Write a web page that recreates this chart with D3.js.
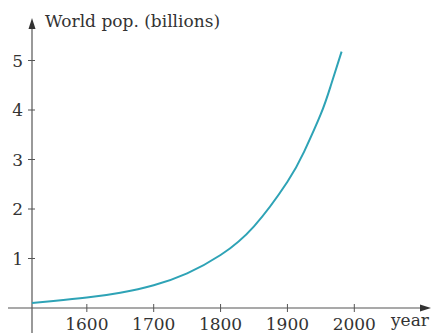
<!DOCTYPE html>
<html>
<head>
<meta charset="utf-8">
<script src="https://cdn.jsdelivr.net/npm/d3@7"></script>
<style>
  body { margin: 0; background: #fff; }
</style>
</head>
<body>
<svg id="chart" width="432" height="333"></svg>
<script>
// values
var years = [1518, 1550, 1600, 1650, 1700, 1750, 1800, 1850, 1900, 1925, 1950, 1965, 1981];
var pop = [0.10, 0.14, 0.21, 0.31, 0.46, 0.70, 1.07, 1.65, 2.55, 3.16, 3.92, 4.5, 5.18];
var xTicks = [1600, 1700, 1800, 1900, 2000];
var yTicks = [1, 2, 3, 4, 5];

var svg = d3.select("#chart");
var axisColor = "#555";
var serif = "'DejaVu Serif', serif";

// 100 years ~ 66.7px, 1 billion ~ 49.5px
var x = d3.scaleLinear().domain([1518, 2000]).range([32, 354.3]);
var y = d3.scaleLinear().domain([0, 5]).range([308, 60.5]);

var g = svg.append("g");

// x axis line with arrow
g.append("line")
    .attr("x1", 8).attr("x2", 424)
    .attr("y1", y(0)).attr("y2", y(0))
    .attr("stroke", axisColor).attr("stroke-width", 1.2);
g.append("path")
    .attr("d", "M" + 431 + "," + y(0) + "l-11,-3.5l0,7z")
    .attr("fill", "#333");

// y axis line with arrow
g.append("line")
    .attr("x1", x(1518)).attr("x2", x(1518))
    .attr("y1", 340).attr("y2", 25)
    .attr("stroke", axisColor).attr("stroke-width", 1.2);
g.append("path")
    .attr("d", "M" + x(1518) + ",18l-3.5,11l7,0z")
    .attr("fill", "#333");

// ticks
g.selectAll(".xt").data(xTicks).enter().append("line")
    .attr("x1", function (d) { return x(d); })
    .attr("x2", function (d) { return x(d); })
    .attr("y1", y(0) - 4).attr("y2", y(0) + 4)
    .attr("stroke", axisColor).attr("stroke-width", 1);
g.selectAll(".yt").data(yTicks).enter().append("line")
    .attr("x1", x(1518) - 4).attr("x2", x(1518) + 3)
    .attr("y1", function (d) { return y(d); })
    .attr("y2", function (d) { return y(d); })
    .attr("stroke", axisColor).attr("stroke-width", 1);

function label(sel) {
    return sel.attr("font-family", serif).attr("font-size", 17).attr("fill", "#333");
}

// tick labels
label(g.selectAll(".xl").data(xTicks).enter().append("text"))
    .attr("x", function (d) { return x(d); })
    .attr("y", 330)
    .attr("text-anchor", "middle")
    .text(function (d) { return d; });
label(g.selectAll(".yl").data(yTicks).enter().append("text"))
    .attr("x", 23)
    .attr("y", function (d) { return y(d) + 6; })
    .attr("text-anchor", "end")
    .text(function (d) { return d; });

label(g.append("text"))
    .attr("x", 391).attr("y", 326)
    .text("year");
label(g.append("text"))
    .attr("x", 45).attr("y", 27)
    .text("World pop. (billions)");

// the curve
var line = d3.line()
    .x(function (d, i) { return x(years[i]); })
    .y(function (d) { return y(d); })
    .curve(d3.curveNatural);

g.append("path")
    .datum(pop)
    .attr("d", line)
    .attr("fill", "none")
    .attr("stroke", "#2ea3b6")
    .attr("stroke-width", 2);
</script>
</body>
</html>
